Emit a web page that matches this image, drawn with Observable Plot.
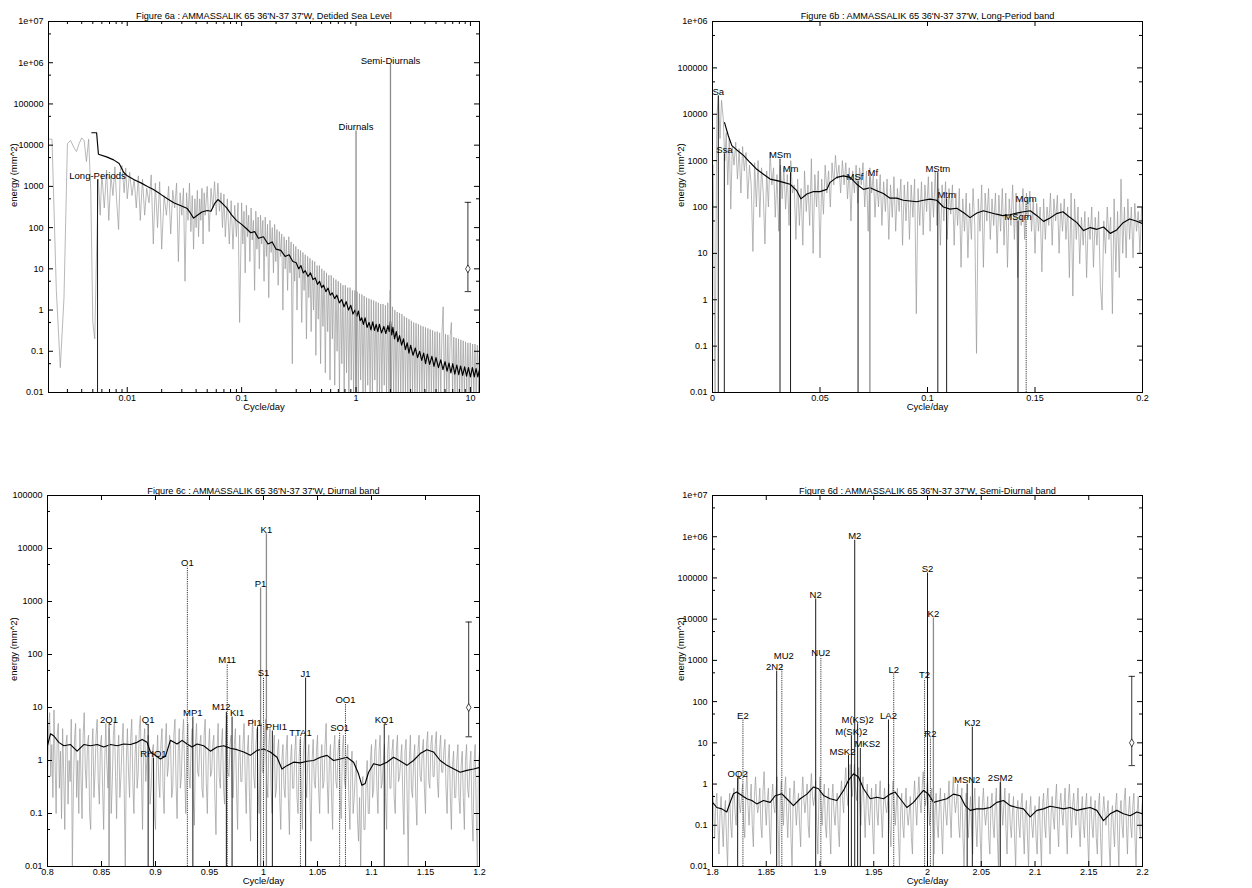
<!DOCTYPE html>
<html><head><meta charset="utf-8">
<script src="https://cdn.jsdelivr.net/npm/d3@7"></script>
<script src="https://cdn.jsdelivr.net/npm/@observablehq/plot@0.6"></script>
<style>
html,body{margin:0;padding:0;background:#fff;}
#wrap{position:relative;width:1252px;height:888px;overflow:hidden;background:#fff;}
.panel{position:absolute;}
</style></head><body><div id="wrap"></div>
<script>
// ---------- tick values and labels ----------
const yTicksAll = [0.01, 0.1, 1, 10, 100, 1000, 10000, 100000, 1e6, 1e7];
const yTickLabelsAll = ["0.01", "0.1", "1", "10", "100", "1000", "10000", "100000", "1e+06", "1e+07"];
const yMinorAll = [0.05, 0.5, 5, 50, 500, 5000, 50000, 500000, 5e6];
const aXTicks = [0.01, 0.1, 1, 10];
const aXTickLabels = ["0.01", "0.1", "1", "10"];
const aXMinor = [0.003,0.004,0.005,0.006,0.007,0.008,0.009,0.02,0.03,0.04,0.05,0.06,0.07,0.08,0.09,0.2,0.3,0.4,0.5,0.6,0.7,0.8,0.9,2,3,4,5,6,7,8,9];
const bXTicks = [0, 0.05, 0.1, 0.15, 0.2];
const bXTickLabels = ["0", "0.05", "0.1", "0.15", "0.2"];
const cXTicks = [0.8, 0.85, 0.9, 0.95, 1, 1.05, 1.1, 1.15, 1.2];
const cXTickLabels = ["0.8", "0.85", "0.9", "0.95", "1", "1.05", "1.1", "1.15", "1.2"];
const dXTicks = [1.8, 1.85, 1.9, 1.95, 2, 2.05, 2.1, 2.15, 2.2];
const dXTickLabels = ["1.8", "1.85", "1.9", "1.95", "2", "2.05", "2.1", "2.15", "2.2"];

const titles = [
  "Figure 6a : AMMASSALIK 65 36'N-37 37'W, Detided Sea Level",
  "Figure 6b : AMMASSALIK 65 36'N-37 37'W, Long-Period band",
  "Figure 6c : AMMASSALIK 65 36'N-37 37'W, Diurnal band",
  "Figure 6d : AMMASSALIK 65 36'N-37 37'W, Semi-Diurnal band"
];
const xLabel = "Cycle/day";
const yLabel = "energy (mm^2)";

// ---------- Panel a : raw spectrum (gray) and smoothed spectrum (black) ----------
const aGray = [[0.00205,14000],[0.0022,14000],[0.0024,3],[0.0026,0.04],[0.0028,2],[0.003,11000],[0.0032,13000],[0.0034,9000],[0.0036,7000],[0.0038,11000],[0.004,15000],[0.0042,13000],[0.0044,4000],[0.0046,14000],[0.0048,800],[0.005,0.5],[0.0052,0.2],[0.0054,30],[0.0056,1500],[0.0058,200],[0.006,2000],[0.0063,300],[0.0066,2500],[0.0069,150],[0.0072,1800],[0.0075,600],[0.0078,3000],[0.0081,400],[0.0084,90],[0.0087,2500],[0.009,3200],[0.0094,700],[0.0097,2800],[0.01,500],[0.0105,2200],[0.011,600],[0.0115,1500],[0.012,300],[0.0125,1800],[0.013,150],[0.0136,1500],[0.0142,200],[0.0148,900],[0.0155,400],[0.0162,1900],[0.0169,40],[0.0176,1200],[0.0184,100],[0.0192,1300],[0.02,30],[0.021,600],[0.022,200],[0.023,1000],[0.024,70],[0.025,800],[0.026,300],[0.027,1200],[0.028,15],[0.029,700],[0.03,200],[0.031,900],[0.032,5],[0.033,700],[0.034,150],[0.035,1200],[0.036,80],[0.037,600],[0.038,30],[0.039,500],[0.04,100],[0.041,800],[0.042,60],[0.043,500],[0.044,150],[0.045,900],[0.046,40],[0.047,700],[0.048,200],[0.05,1000],[0.052,80],[0.054,900],[0.056,300],[0.058,1300],[0.06,200],[0.062,1200],[0.064,250],[0.066,700],[0.068,100],[0.07,650],[0.072,60],[0.075,500],[0.078,40],[0.081,450],[0.084,30],[0.087,350],[0.09,60],[0.093,400],[0.096,0.5],
[0.1,400],[0.1024,40],[0.1049,250],[0.1074,8],[0.11,350],[0.1126,60],[0.1153,200],[0.1181,15],[0.1209,300],[0.1238,50],[0.1268,150],[0.1298,3],[0.133,250],[0.1361,30],[0.1394,180],[0.1428,10],[0.1462,200],[0.1497,40],[0.1533,150],[0.157,5],[0.1607,180],[0.1646,20],[0.1685,120],[0.1726,2],[0.1767,150],[0.181,25],[0.1853,100],[0.1897,8],[0.1943,120],[0.199,15],[0.2037,90],[0.2086,4],[0.2136,80],[0.2188,20],[0.224,70],[0.2294,1],[0.2349,60],[0.2405,10],[0.2463,50],[0.2522,3],[0.2582,60],[0.2644,8],[0.2708,45],[0.2773,0.05],[0.2839,40],[0.2907,5],[0.2977,35],[0.3049,1],[0.3122,30],[0.3197,6],[0.3273,28],[0.3352,0.5],[0.3432,25],[0.3515,3],[0.3599,22],[0.3686,0.2],[0.3774,20],[0.3865,2],[0.3957,18],[0.4052,0.3],[0.415,16],[0.4249,1],[0.4351,15],[0.4456,0.08],[0.4563,12],[0.4672,0.6],[0.4784,12],[0.4899,0.05],[0.5017,10],[0.5137,0.4],[0.526,9],[0.5387,0.03],[0.5516,8],[0.5649,0.3],[0.5784,7],[0.5923,0.02],[0.6065,7],[0.6211,0.2],[0.636,6],[0.6513,0.015],[0.6669,5.5],[0.6829,0.1],[0.6993,5],[0.7161,0.01],[0.7333,4.5],[0.7509,0.05],[0.7689,4],[0.7874,0.01],[0.8063,4],[0.8256,0.03],[0.8454,3.5],[0.8657,0.01],[0.8865,3.5],[0.9078,0.02],[0.9296,3],[0.9519,0.01],[0.9747,3],[0.9981,0.01],[1.022,2.8],[1.047,0.01],[1.072,2.5],[1.097,0.02],[1.124,2.4],[1.151,0.01],[1.178,2.2],[1.207,0.01],[1.236,2],[1.265,0.015],[1.296,1.9],[1.327,0.01],[1.359,1.8],[1.391,0.01],[1.425,1.7],[1.459,0.02],[1.494,1.6],[1.53,0.01],[1.567,1.5],[1.604,0.01],[1.643,1.4],[1.682,0.01],[1.722,1.4],[1.764,0.015],[1.806,1.3],[1.849,0.01],[1.894,1.5],[1.939,0.01],[1.986,3],[2.033,0.01],[2.082,1.2],[2.132,0.01],[2.183,1.0],[2.236,0.01],[2.289,0.9],[2.344,0.01],[2.401,0.85],[2.458,0.01],[2.517,0.8],[2.578,0.01],[2.64,0.7],[2.703,0.01],[2.768,0.65],[2.834,0.01],[2.902,0.6],[2.972,0.01],[3.043,0.55],[3.117,0.01],[3.191,0.5],[3.268,0.01],[3.346,0.48],[3.427,0.01],[3.509,0.45],[3.593,0.01],[3.679,0.42],[3.768,0.01],[3.858,0.4],[3.951,0.01],[4.046,0.38],[4.143,0.01],[4.242,0.36],[4.344,0.01],[4.449,0.34],[4.555,0.01],[4.665,0.32],[4.777,0.01],[4.891,0.3],[5.009,0.01],[5.129,0.3],[5.252,0.01],[5.378,0.28],[5.507,0.01],[5.639,0.28],[5.775,1.2],[5.913,0.01],[6.055,0.26],[6.201,0.01],[6.349,0.25],[6.502,0.01],[6.658,0.24],[6.818,0.5],[6.981,0.01],[7.149,0.22],[7.32,0.01],[7.496,0.21],[7.676,0.01],[7.86,0.2],[8.049,0.01],[8.242,0.19],[8.44,0.01],[8.642,0.18],[8.85,0.01],[9.062,0.17],[9.28,0.01],[9.503,0.16],[9.731,0.01],[9.964,0.16],[10.2,0.01],[10.45,0.15],[10.7,0.01],[10.96,0.15],[11.22,0.01],[11.49,0.14],[11.77,0.01],[12,0.13]];
const aSmooth = [[0.0049,20000],[0.0054,20000],[0.0056,6000],[0.0066,5200],[0.0076,4400],[0.0085,3600],[0.0093,2200],[0.01,1800],[0.0115,1450],[0.0133,1200],[0.015,1000],[0.0168,850],[0.0195,650],[0.0224,500],[0.0255,400],[0.0295,340],[0.0335,290],[0.0355,230],[0.038,170],[0.041,200],[0.045,240],[0.05,260],[0.054,250],[0.058,380],[0.062,480],[0.067,400],[0.074,300],[0.082,200],[0.09,150],[0.1,120],[0.11,95],[0.12,75],[0.13,80],[0.14,55],[0.155,60],[0.17,40],[0.185,45],[0.2,30],[0.22,28],[0.24,20],[0.26,22],[0.28,15],[0.3,14],[0.315,10],[0.33,12],[0.345,8],[0.36,9],[0.38,6.5],[0.4,8],[0.42,5.5],[0.44,6],[0.46,4.2],[0.48,5],[0.5,3.5],[0.52,4],[0.545,2.8],[0.57,3.4],[0.595,2.3],[0.62,2.6],[0.65,1.9],[0.68,2.3],[0.715,1.5],[0.75,1.8],[0.785,1.2],[0.82,1.6],[0.86,1.0],[0.9,1.3],[0.94,0.8],[0.98,1.0],[1.015,0.7],[1.05,0.95],[1.085,0.55],[1.12,0.65],[1.16,0.45],[1.2,0.65],[1.25,0.38],[1.3,0.5],[1.35,0.33],[1.4,0.52],[1.45,0.32],[1.5,0.45],[1.55,0.3],[1.6,0.45],[1.67,0.28],[1.75,0.4],[1.82,0.27],[1.9,0.42],[1.95,0.3],[2.0,0.55],[2.05,0.25],[2.1,0.38],[2.17,0.2],[2.25,0.3],[2.32,0.17],[2.4,0.24],[2.5,0.14],[2.6,0.2],[2.7,0.11],[2.8,0.16],[2.9,0.09],[3.0,0.14],[3.15,0.08],[3.3,0.12],[3.45,0.07],[3.6,0.1],[3.75,0.06],[3.9,0.09],[4.05,0.05],[4.2,0.085],[4.4,0.048],[4.6,0.075],[4.8,0.043],[5.0,0.07],[5.25,0.04],[5.5,0.062],[5.75,0.036],[6.0,0.056],[6.25,0.033],[6.5,0.052],[6.75,0.03],[7.0,0.05],[7.3,0.028],[7.6,0.046],[7.9,0.027],[8.2,0.044],[8.55,0.026],[8.9,0.042],[9.25,0.025],[9.6,0.04],[10,0.024],[10.4,0.04],[10.8,0.024],[11.2,0.038],[11.6,0.024],[12,0.036]];
const aBands = [
  {n: "Long-Periods", f: 0.0055, e: 1450, s: "k"},
  {n: "Diurnals", f: 1.0, e: 22000, s: "g"},
  {n: "Semi-Diurnals", f: 2.0, e: 900000, s: "g"}
];
const aErr = {f: 9.5, lo: 2.8, mid: 10, hi: 410};

// ---------- Panel b : long-period band ----------
const bGray = [[0.0003,800],[0.0012,0.01],[0.002,9000],[0.0028,25000],[0.0035,3000],[0.0042,20000],[0.005,8000],[0.0057,1000],[0.0064,4000],[0.0071,300],[0.0078,3000],[0.0085,90],[0.0092,2000],[0.01,800],[0.0108,2500],[0.0116,400],[0.0124,1800],[0.0132,200],[0.014,2000],[0.0148,600],[0.0156,1500],[0.0164,150],[0.0172,800],[0.018,300],[0.0188,11],[0.0196,900],[0.0204,100],[0.0212,1000],[0.022,60],[0.0228,700],[0.0236,200],[0.0244,16],[0.0252,600],[0.026,100],[0.0268,1500],[0.0276,300],[0.0284,700],[0.0292,60],[0.03,500],[0.0308,30],[0.0316,800],[0.0324,150],[0.0332,700],[0.034,90],[0.0348,500],[0.0356,40],[0.0364,1000],[0.0372,200],[0.038,300],[0.0388,20],[0.0396,400],[0.0404,40],[0.0412,250],[0.042,15],[0.0428,600],[0.0436,80],[0.0444,300],[0.0452,40],[0.046,1100],[0.0468,10],[0.0476,500],[0.0484,100],[0.0492,600],[0.05,8],[0.0508,400],[0.0516,70],[0.0524,800],[0.0532,200],[0.054,600],[0.0548,100],[0.0556,900],[0.0564,300],[0.0572,1300],[0.058,400],[0.0588,800],[0.0596,200],[0.0604,1000],[0.0612,300],[0.062,900],[0.0628,150],[0.0636,700],[0.0644,50],[0.0652,600],[0.066,200],[0.0668,800],[0.0676,120],[0.0684,700],[0.0692,300],[0.07,900],[0.0708,100],[0.0716,600],[0.0724,30],[0.0732,700],[0.074,200],[0.0748,500],[0.0756,60],[0.0764,400],[0.0772,100],[0.078,500],[0.0788,40],[0.0796,350],[0.0804,80],[0.0812,400],[0.082,20],[0.0828,300],[0.0836,60],[0.0844,450],[0.0852,30],[0.086,250],[0.0868,80],[0.0876,400],[0.0884,15],[0.0892,300],[0.09,50],[0.0908,350],[0.0916,20],[0.0924,300],[0.0932,60],[0.094,400],[0.0948,0.5],[0.0956,250],[0.0964,40],[0.0972,350],[0.098,25],[0.0988,300],[0.0996,80],[0.1004,450],[0.1012,30],[0.102,350],[0.1028,60],[0.1036,600],[0.1044,40],[0.1052,250],[0.106,15],[0.1068,300],[0.1076,50],[0.1084,350],[0.1092,20],[0.11,250],[0.1108,70],[0.1116,300],[0.1124,15],[0.1132,200],[0.114,40],[0.1148,250],[0.1156,5],[0.1164,150],[0.1172,30],[0.118,200],[0.1188,8],[0.1196,120],[0.1204,20],[0.1212,250],[0.122,40],[0.1228,0.07],[0.1236,150],[0.1244,30],[0.1252,300],[0.126,5],[0.1268,200],[0.1276,50],[0.1284,250],[0.1292,20],[0.13,150],[0.1308,40],[0.1316,200],[0.1324,10],[0.1332,180],[0.134,30],[0.1348,250],[0.1356,15],[0.1364,200],[0.1372,5],[0.138,150],[0.1388,40],[0.1396,300],[0.1404,20],[0.1412,200],[0.142,3],[0.1428,150],[0.1436,40],[0.1444,250],[0.1452,20],[0.146,200],[0.1468,60],[0.1476,220],[0.1484,30],[0.1492,150],[0.15,10],[0.1508,120],[0.1516,30],[0.1524,100],[0.1532,4],[0.154,150],[0.1548,20],[0.1556,100],[0.1564,40],[0.1572,200],[0.158,15],[0.1588,150],[0.1596,50],[0.1604,180],[0.1612,10],[0.162,120],[0.1628,30],[0.1636,150],[0.1644,20],[0.1652,100],[0.166,3],[0.1668,200],[0.1676,1.2],[0.1684,150],[0.1692,20],[0.17,100],[0.1708,6],[0.1716,60],[0.1724,15],[0.1732,80],[0.174,3],[0.1748,60],[0.1756,20],[0.1764,100],[0.1772,5],[0.178,60],[0.1788,15],[0.1796,80],[0.1804,2],[0.1812,0.6],[0.182,50],[0.1828,10],[0.1836,100],[0.1844,20],[0.1852,60],[0.186,0.5],[0.1868,150],[0.1876,4],[0.1884,80],[0.1892,3],[0.19,400],[0.1908,10],[0.1916,100],[0.1924,8],[0.1932,150],[0.194,20],[0.1948,100],[0.1956,8],[0.1964,120],[0.1972,30],[0.198,80],[0.1988,10],[0.1996,100],[0.2,40]];
const bSmooth = [[0.0056,6600],[0.0074,3400],[0.009,2100],[0.0113,1700],[0.0144,1300],[0.0175,910],[0.0206,650],[0.0237,510],[0.0268,400],[0.03,370],[0.033,340],[0.0361,310],[0.0392,225],[0.0411,150],[0.0439,190],[0.047,215],[0.05,215],[0.0532,240],[0.0547,340],[0.0578,435],[0.0609,470],[0.064,435],[0.0671,310],[0.0702,240],[0.0733,260],[0.0764,225],[0.0795,195],[0.0826,155],[0.0857,155],[0.0888,140],[0.0919,135],[0.095,130],[0.0981,140],[0.1012,148],[0.1043,140],[0.1074,100],[0.1105,90],[0.1136,94],[0.1167,76],[0.1198,59],[0.123,74],[0.126,83],[0.129,76],[0.132,70],[0.135,65],[0.1384,68],[0.1415,74],[0.1447,79],[0.1478,83],[0.1509,65],[0.154,49],[0.157,58],[0.16,72],[0.163,79],[0.166,61],[0.1695,46],[0.1726,31],[0.1757,36],[0.1788,33],[0.1819,37],[0.185,27],[0.188,32],[0.191,46],[0.194,55],[0.197,50],[0.2,44]];
const bCons = [
  {n: "Sa", f: 0.0027, e: 25000, s: "k"},
  {n: "Ssa", f: 0.0055, e: 1400, s: "k"},
  {n: "MSm", f: 0.0314, e: 1070, s: "k"},
  {n: "Mm", f: 0.0363, e: 550, s: "k"},
  {n: "MSf", f: 0.0677, e: 360, s: "k"},
  {n: "Mf", f: 0.0732, e: 440, s: "g"},
  {n: "MStm", f: 0.1048, e: 550, s: "k"},
  {n: "Mtm", f: 0.1089, e: 150, s: "k"},
  {n: "MSqm", f: 0.1421, e: 50, s: "k"},
  {n: "Mqm", f: 0.1459, e: 122, s: "d"}
];

// ---------- Panel c : diurnal band ----------
const cGray = [[0.8,0.4],[0.801,4],[0.802,8],[0.803,0.5],[0.804,2],[0.805,0.2],[0.806,9],[0.807,1],[0.808,0.1],[0.809,3],[0.81,5],[0.811,0.3],[0.812,1.5],[0.813,0.08],[0.814,4],[0.815,0.6],[0.816,0.05],[0.817,2],[0.818,3],[0.819,0.15],[0.82,1],[0.821,0.4],[0.822,6],[0.823,0.01],[0.824,0.3],[0.825,2.5],[0.826,5],[0.827,0.2],[0.828,1],[0.829,0.1],[0.83,4],[0.831,0.5],[0.832,0.08],[0.833,3],[0.834,8],[0.835,0.7],[0.836,0.3],[0.837,2],[0.838,3],[0.839,0.1],[0.84,0.05],[0.841,1.5],[0.842,4],[0.843,0.2],[0.844,0.6],[0.845,3],[0.846,6],[0.847,0.4],[0.848,0.15],[0.849,2],[0.85,3],[0.851,0.3],[0.852,0.05],[0.853,1],[0.854,5],[0.855,0.8],[0.856,0.3],[0.857,4],[0.858,2],[0.859,0.1],[0.86,0.4],[0.861,3],[0.862,6],[0.863,0.5],[0.864,0.08],[0.865,1.5],[0.866,3],[0.867,0.2],[0.868,0.5],[0.869,2],[0.87,5],[0.871,0.3],[0.872,0.01],[0.873,1],[0.874,4],[0.875,0.6],[0.876,0.2],[0.877,2.5],[0.878,6],[0.879,0.4],[0.88,0.1],[0.881,1.2],[0.882,3],[0.883,0.3],[0.884,0.6],[0.885,4],[0.886,7],[0.887,0.5],[0.888,0.05],[0.889,2],[0.89,4],[0.891,0.4],[0.892,1],[0.893,3],[0.894,2],[0.895,0.15],[0.896,0.3],[0.897,1.5],[0.898,2],[0.899,0.1],[0.9,0.05],[0.901,1],[0.902,3],[0.903,0.4],[0.904,0.2],[0.905,2],[0.906,4],[0.907,0.3],[0.908,0.1],[0.909,2],[0.91,5],[0.911,0.5],[0.912,0.8],[0.913,3],[0.914,2],[0.915,0.2],[0.916,0.3],[0.917,3],[0.918,6],[0.919,0.4],[0.92,0.08],[0.921,1.5],[0.922,4],[0.923,0.3],[0.924,0.5],[0.925,3],[0.926,6],[0.927,0.6],[0.928,0.1],[0.929,2],[0.93,5],[0.931,0.5],[0.932,0.3],[0.933,2],[0.934,4],[0.935,0.2],[0.936,0.06],[0.937,2],[0.938,5],[0.939,0.6],[0.94,0.5],[0.941,2],[0.942,3],[0.943,0.3],[0.944,0.2],[0.945,3],[0.946,6],[0.947,0.4],[0.948,0.1],[0.949,1.5],[0.95,4],[0.951,0.5],[0.952,0.6],[0.953,2],[0.954,3],[0.955,0.2],[0.956,0.04],[0.957,1.5],[0.958,5],[0.959,0.5],[0.96,0.3],[0.961,2],[0.962,4],[0.963,0.3],[0.964,0.15],[0.965,3],[0.966,7],[0.967,0.6],[0.968,0.5],[0.969,2],[0.97,3],[0.971,0.2],[0.972,0.2],[0.973,2],[0.974,4],[0.975,0.3],[0.976,0.05],[0.977,1],[0.978,3],[0.979,0.4],[0.98,0.4],[0.981,2],[0.982,5],[0.983,0.5],[0.984,0.1],[0.985,1.5],[0.986,3],[0.987,0.2],[0.988,0.03],[0.989,2],[0.99,6],[0.991,0.5],[0.992,0.3],[0.993,2],[0.994,4],[0.995,0.3],[0.996,0.1],[0.997,2],[0.998,5],[0.999,0.6],[1.0,0.6],[1.001,3],[1.002,6],[1.003,0.4],[1.004,0.2],[1.005,2],[1.006,4],[1.007,0.3],[1.008,0.1],[1.009,1.5],[1.01,3],[1.011,0.2],[1.012,0.3],[1.013,1.5],[1.014,2.5],[1.015,0.2],[1.016,0.05],[1.017,1],[1.018,2],[1.019,0.3],[1.02,0.2],[1.021,1.5],[1.022,3],[1.023,0.2],[1.024,0.04],[1.025,1],[1.026,2],[1.027,0.3],[1.028,0.3],[1.029,1.5],[1.03,3],[1.031,0.2],[1.032,0.1],[1.033,1.2],[1.034,2.5],[1.035,0.3],[1.036,0.05],[1.037,1.5],[1.038,3],[1.039,0.4],[1.04,0.2],[1.041,1],[1.042,2],[1.043,0.2],[1.044,0.03],[1.045,1],[1.046,2.5],[1.047,0.4],[1.048,0.3],[1.049,1.5],[1.05,3],[1.051,0.3],[1.052,0.1],[1.053,1],[1.054,2],[1.055,0.3],[1.056,0.4],[1.057,2],[1.058,5],[1.059,0.4],[1.06,0.1],[1.061,1],[1.062,2],[1.063,0.2],[1.064,0.05],[1.065,1.5],[1.066,3],[1.067,0.4],[1.068,0.3],[1.069,1.5],[1.07,2.5],[1.071,0.2],[1.072,0.08],[1.073,1.5],[1.074,3],[1.075,0.4],[1.076,0.3],[1.077,1],[1.078,2],[1.079,0.2],[1.08,0.05],[1.081,0.8],[1.082,1.5],[1.083,0.1],[1.084,0.2],[1.085,0.6],[1.086,1],[1.087,0.08],[1.088,0.03],[1.089,0.2],[1.09,0.01],[1.091,0.3],[1.092,0.5],[1.093,0.05],[1.094,0.05],[1.095,0.4],[1.096,1],[1.097,0.1],[1.098,0.1],[1.099,1],[1.1,2],[1.101,0.2],[1.102,0.3],[1.103,1.5],[1.104,2.5],[1.105,0.3],[1.106,0.1],[1.107,1.5],[1.108,3],[1.109,0.3],[1.11,0.4],[1.111,1],[1.112,2],[1.113,0.2],[1.114,0.05],[1.115,1.5],[1.116,3],[1.117,0.3],[1.118,0.3],[1.119,1.5],[1.12,2.5],[1.121,0.2],[1.122,0.1],[1.123,1.5],[1.124,3],[1.125,0.4],[1.126,0.5],[1.127,1],[1.128,2],[1.129,0.2],[1.13,0.04],[1.131,1.5],[1.132,2.5],[1.133,0.2],[1.134,0.01],[1.135,1],[1.136,3],[1.137,0.3],[1.138,0.2],[1.139,1],[1.14,2],[1.141,0.2],[1.142,0.06],[1.143,1.5],[1.144,3],[1.145,0.5],[1.146,0.4],[1.147,1.5],[1.148,2.5],[1.149,0.3],[1.15,0.1],[1.151,2],[1.152,3.5],[1.153,0.4],[1.154,0.3],[1.155,2],[1.156,3],[1.157,0.5],[1.158,0.5],[1.159,2],[1.16,3.5],[1.161,0.4],[1.162,0.2],[1.163,1.5],[1.164,3],[1.165,0.6],[1.166,0.6],[1.167,1.5],[1.168,2.5],[1.169,0.3],[1.17,0.1],[1.171,1],[1.172,2],[1.173,0.2],[1.174,0.05],[1.175,0.8],[1.176,1.5],[1.177,0.2],[1.178,0.2],[1.179,1],[1.18,2],[1.181,0.2],[1.182,0.1],[1.183,0.8],[1.184,1.5],[1.185,0.2],[1.186,0.05],[1.187,1],[1.188,2],[1.189,0.3],[1.19,0.2],[1.191,0.8],[1.192,1.5],[1.193,0.1],[1.194,0.03],[1.195,1],[1.196,2],[1.197,0.1],[1.198,0.01],[1.199,0.8],[1.2,1.5]];
const cSmooth = [[0.8,1.9],[0.8028,3.2],[0.8059,2.9],[0.8105,2.2],[0.8151,1.9],[0.8213,2.0],[0.8274,1.5],[0.8336,2.0],[0.8398,1.9],[0.846,2.0],[0.8521,1.8],[0.8583,2.0],[0.8645,1.9],[0.8706,2.05],[0.8768,2.0],[0.883,2.2],[0.8876,2.5],[0.8922,2.2],[0.8953,1.45],[0.8999,1.25],[0.9045,1.07],[0.9092,1.2],[0.9138,2.4],[0.92,2.05],[0.9246,2.4],[0.9292,2.05],[0.9338,1.8],[0.9385,2.05],[0.9446,1.9],[0.9508,1.5],[0.957,1.8],[0.9631,1.9],[0.9693,1.7],[0.9755,1.6],[0.9817,1.45],[0.9878,1.25],[0.994,1.55],[1.0002,1.65],[1.0063,1.45],[1.0125,1.15],[1.0171,0.69],[1.0217,0.8],[1.0279,0.93],[1.0341,0.9],[1.0402,0.97],[1.0464,1.0],[1.0526,1.15],[1.0588,1.25],[1.0649,1.0],[1.0711,1.07],[1.0773,1.15],[1.0834,0.93],[1.088,0.56],[1.0911,0.34],[1.0942,0.37],[1.0973,0.6],[1.1019,0.87],[1.1081,0.81],[1.1143,0.93],[1.1204,1.15],[1.1266,0.98],[1.1328,0.81],[1.1389,1.0],[1.1451,1.35],[1.1513,1.6],[1.1574,1.45],[1.1636,1.0],[1.1698,0.81],[1.1759,0.7],[1.1821,0.6],[1.1883,0.65],[1.1945,0.69],[1.2,0.74]];
const cCons = [
  {n: "2Q1", f: 0.857, e: 4.8, s: "g"},
  {n: "Q1", f: 0.8932, e: 4.8, s: "k"},
  {n: "RHO1", f: 0.8981, e: 1.1, s: "k"},
  {n: "O1", f: 0.9295, e: 4500, s: "d"},
  {n: "MP1", f: 0.9346, e: 6.6, s: "k"},
  {n: "M11", f: 0.9664, e: 65, s: "d"},
  {n: "M12", f: 0.9656, e: 8.1, s: "k"},
  {n: "KI1", f: 0.9709, e: 6.6, s: "k"},
  {n: "PI1", f: 0.9945, e: 4.3, s: "k"},
  {n: "P1", f: 0.9973, e: 1800, s: "g"},
  {n: "S1", f: 1.0, e: 37, s: "d"},
  {n: "K1", f: 1.0027, e: 19000, s: "g"},
  {n: "PHI1", f: 1.0082, e: 3.6, s: "k"},
  {n: "TTA1", f: 1.0342, e: 2.8, s: "d"},
  {n: "J1", f: 1.039, e: 36, s: "k"},
  {n: "SO1", f: 1.0705, e: 3.4, s: "d"},
  {n: "OO1", f: 1.0759, e: 11.8, s: "d"},
  {n: "KQ1", f: 1.1118, e: 4.8, s: "k"}
];
const cErr = {f: 1.19, lo: 2.8, mid: 10, hi: 410};

// ---------- Panel d : semi-diurnal band ----------
const dGray = [[1.8,0.8],[1.801,0.3],[1.802,0.05],[1.803,0.3],[1.804,0.6],[1.805,0.1],[1.806,0.02],[1.807,0.2],[1.808,0.5],[1.809,0.1],[1.81,0.03],[1.811,0.2],[1.812,0.4],[1.813,0.05],[1.814,0.01],[1.815,0.2],[1.816,0.6],[1.817,0.1],[1.818,0.05],[1.819,0.4],[1.82,0.8],[1.821,0.2],[1.822,0.1],[1.823,0.6],[1.824,2],[1.825,0.3],[1.826,0.2],[1.827,0.5],[1.828,1],[1.829,0.1],[1.83,0.05],[1.831,0.6],[1.832,2],[1.833,0.3],[1.834,0.1],[1.835,0.4],[1.836,1],[1.837,0.1],[1.838,0.03],[1.839,0.5],[1.84,1.5],[1.841,0.4],[1.842,0.2],[1.843,0.3],[1.844,0.8],[1.845,0.1],[1.846,0.05],[1.847,0.7],[1.848,2],[1.849,0.3],[1.85,0.1],[1.851,0.4],[1.852,0.8],[1.853,0.08],[1.854,0.02],[1.855,0.4],[1.856,1],[1.857,0.3],[1.858,0.2],[1.859,0.6],[1.86,1.5],[1.861,0.1],[1.862,0.01],[1.863,0.4],[1.864,1.2],[1.865,0.3],[1.866,0.1],[1.867,0.6],[1.868,1.5],[1.869,0.2],[1.87,0.05],[1.871,0.3],[1.872,0.8],[1.873,0.05],[1.874,0.01],[1.875,0.4],[1.876,1.2],[1.877,0.3],[1.878,0.1],[1.879,0.3],[1.88,0.6],[1.881,0.1],[1.882,0.03],[1.883,0.5],[1.884,1.5],[1.885,0.4],[1.886,0.2],[1.887,0.4],[1.888,1],[1.889,0.1],[1.89,0.05],[1.891,0.7],[1.892,1.8],[1.893,0.5],[1.894,0.3],[1.895,0.5],[1.896,1.2],[1.897,0.1],[1.898,0.02],[1.899,0.5],[1.9,1.5],[1.901,0.3],[1.902,0.1],[1.903,0.4],[1.904,1],[1.905,0.1],[1.906,0.05],[1.907,0.3],[1.908,0.8],[1.909,0.08],[1.91,0.02],[1.911,0.4],[1.912,1],[1.913,0.2],[1.914,0.1],[1.915,0.3],[1.916,0.6],[1.917,0.08],[1.918,0.03],[1.919,0.5],[1.92,1.2],[1.921,0.4],[1.922,0.2],[1.923,1],[1.924,2.5],[1.925,0.6],[1.926,0.3],[1.927,1.2],[1.928,3],[1.929,0.8],[1.93,0.5],[1.931,1.2],[1.932,3],[1.933,0.8],[1.934,0.4],[1.935,1],[1.936,2.5],[1.937,0.4],[1.938,0.1],[1.939,0.5],[1.94,1.5],[1.941,0.3],[1.942,0.05],[1.943,0.4],[1.944,1],[1.945,0.2],[1.946,0.1],[1.947,0.3],[1.948,0.8],[1.949,0.08],[1.95,0.02],[1.951,0.4],[1.952,1],[1.953,0.2],[1.954,0.1],[1.955,0.5],[1.956,1.2],[1.957,0.2],[1.958,0.05],[1.959,0.3],[1.96,0.8],[1.961,0.3],[1.962,0.2],[1.963,0.4],[1.964,1],[1.965,0.1],[1.966,0.03],[1.967,0.5],[1.968,1.2],[1.969,0.3],[1.97,0.1],[1.971,0.3],[1.972,0.8],[1.973,0.05],[1.974,0.01],[1.975,0.2],[1.976,0.6],[1.977,0.1],[1.978,0.05],[1.979,0.3],[1.98,0.8],[1.981,0.2],[1.982,0.1],[1.983,0.2],[1.984,0.5],[1.985,0.05],[1.986,0.02],[1.987,0.4],[1.988,1.2],[1.989,0.3],[1.99,0.1],[1.991,0.5],[1.992,1.5],[1.993,0.4],[1.994,0.2],[1.995,0.8],[1.996,2],[1.997,0.6],[1.998,0.3],[1.999,0.5],[2.0,1.5],[2.001,0.3],[2.002,0.1],[2.003,0.3],[2.004,0.8],[2.005,0.1],[2.006,0.02],[2.007,0.2],[2.008,0.6],[2.009,0.1],[2.01,0.05],[2.011,0.3],[2.012,0.8],[2.013,0.1],[2.014,0.02],[2.015,0.2],[2.016,0.6],[2.017,0.2],[2.018,0.1],[2.019,0.4],[2.02,1.2],[2.021,0.2],[2.022,0.05],[2.023,0.5],[2.024,1.5],[2.025,0.4],[2.026,0.2],[2.027,0.4],[2.028,1],[2.029,0.1],[2.03,0.05],[2.031,0.3],[2.032,0.8],[2.033,0.05],[2.034,0.01],[2.035,0.2],[2.036,0.6],[2.037,0.1],[2.038,0.05],[2.039,0.2],[2.04,0.5],[2.041,0.08],[2.042,0.02],[2.043,0.3],[2.044,0.8],[2.045,0.1],[2.046,0.03],[2.047,0.2],[2.048,0.5],[2.049,0.05],[2.05,0.01],[2.051,0.3],[2.052,0.8],[2.053,0.2],[2.054,0.1],[2.055,0.2],[2.056,0.5],[2.057,0.05],[2.058,0.02],[2.059,0.3],[2.06,0.6],[2.061,0.1],[2.062,0.05],[2.063,0.3],[2.064,0.8],[2.065,0.05],[2.066,0.01],[2.067,0.4],[2.068,1.2],[2.069,0.3],[2.07,0.1],[2.071,0.3],[2.072,0.8],[2.073,0.08],[2.074,0.02],[2.075,0.3],[2.076,0.6],[2.077,0.1],[2.078,0.05],[2.079,0.2],[2.08,0.5],[2.081,0.05],[2.082,0.01],[2.083,0.2],[2.084,0.4],[2.085,0.1],[2.086,0.05],[2.087,0.3],[2.088,0.6],[2.089,0.08],[2.09,0.02],[2.091,0.2],[2.092,0.4],[2.093,0.05],[2.094,0.01],[2.095,0.2],[2.096,0.5],[2.097,0.1],[2.098,0.05],[2.099,0.15],[2.1,0.3],[2.101,0.05],[2.102,0.02],[2.103,0.2],[2.104,0.5],[2.105,0.05],[2.106,0.01],[2.107,0.3],[2.108,0.6],[2.109,0.1],[2.11,0.05],[2.111,0.4],[2.112,0.8],[2.113,0.1],[2.114,0.02],[2.115,0.2],[2.116,0.5],[2.117,0.15],[2.118,0.08],[2.119,0.4],[2.12,1],[2.121,0.1],[2.122,0.03],[2.123,0.3],[2.124,0.6],[2.125,0.2],[2.126,0.1],[2.127,0.3],[2.128,0.8],[2.129,0.1],[2.13,0.02],[2.131,0.4],[2.132,1],[2.133,0.2],[2.134,0.05],[2.135,0.3],[2.136,0.6],[2.137,0.2],[2.138,0.1],[2.139,0.3],[2.14,0.8],[2.141,0.1],[2.142,0.03],[2.143,0.2],[2.144,0.5],[2.145,0.1],[2.146,0.05],[2.147,0.3],[2.148,0.6],[2.149,0.05],[2.15,0.01],[2.151,0.2],[2.152,0.5],[2.153,0.1],[2.154,0.05],[2.155,0.2],[2.156,0.4],[2.157,0.05],[2.158,0.02],[2.159,0.3],[2.16,0.6],[2.161,0.05],[2.162,0.01],[2.163,0.2],[2.164,0.5],[2.165,0.2],[2.166,0.1],[2.167,0.2],[2.168,0.4],[2.169,0.03],[2.17,0.01],[2.171,0.15],[2.172,0.3],[2.173,0.08],[2.174,0.03],[2.175,0.3],[2.176,0.6],[2.177,0.05],[2.178,0.01],[2.179,0.2],[2.18,0.4],[2.181,0.1],[2.182,0.05],[2.183,0.4],[2.184,0.8],[2.185,0.1],[2.186,0.02],[2.187,0.2],[2.188,0.5],[2.189,0.1],[2.19,0.05],[2.191,0.3],[2.192,0.6],[2.193,0.05],[2.194,0.01],[2.195,0.2],[2.196,0.5],[2.197,0.1],[2.198,0.05],[2.199,0.2],[2.2,0.4]];
const dSmooth = [[1.8,0.36],[1.804,0.27],[1.8087,0.25],[1.8133,0.21],[1.8164,0.36],[1.8195,0.58],[1.8226,0.64],[1.8273,0.53],[1.8319,0.44],[1.8366,0.4],[1.8412,0.33],[1.8474,0.4],[1.8536,0.36],[1.8583,0.52],[1.8645,0.58],[1.8691,0.44],[1.8753,0.3],[1.8816,0.44],[1.8878,0.57],[1.894,0.85],[1.8986,0.77],[1.9033,0.53],[1.9095,0.44],[1.9157,0.4],[1.9219,0.7],[1.9265,1.23],[1.9312,1.78],[1.9358,1.48],[1.9405,0.77],[1.9467,0.44],[1.9529,0.48],[1.9591,0.44],[1.9653,0.57],[1.9699,0.64],[1.9746,0.44],[1.9808,0.27],[1.987,0.36],[1.9932,0.57],[1.9963,0.7],[2.0009,0.57],[2.0056,0.36],[2.0118,0.4],[2.018,0.44],[2.0242,0.57],[2.0304,0.52],[2.035,0.3],[2.0397,0.23],[2.0459,0.25],[2.0521,0.25],[2.0583,0.27],[2.0645,0.36],[2.0707,0.4],[2.0769,0.3],[2.0831,0.27],[2.0893,0.25],[2.0955,0.16],[2.1017,0.23],[2.1079,0.25],[2.1141,0.29],[2.1203,0.27],[2.1265,0.25],[2.1327,0.27],[2.1389,0.23],[2.1451,0.25],[2.1513,0.27],[2.1575,0.23],[2.1637,0.13],[2.1699,0.19],[2.1761,0.23],[2.1823,0.19],[2.1885,0.17],[2.1947,0.21],[2.2,0.19]];
const dCons = [
  {n: "OQ2", f: 1.8234, e: 1.4, s: "k"},
  {n: "E2", f: 1.8283, e: 36, s: "d"},
  {n: "2N2", f: 1.8597, e: 550, s: "k"},
  {n: "MU2", f: 1.8645, e: 800, s: "d"},
  {n: "N2", f: 1.896, e: 31000, s: "k"},
  {n: "NU2", f: 1.9008, e: 1200, s: "d"},
  {n: "MSK2", f: 1.9265, e: 4.9, s: "k"},
  {n: "M(SK)2", f: 1.9292, e: 15, s: "k"},
  {n: "M2", f: 1.9323, e: 820000, s: "k"},
  {n: "M(KS)2", f: 1.935, e: 29, s: "k"},
  {n: "MKS2", f: 1.9375, e: 7.3, s: "k"},
  {n: "LA2", f: 1.9637, e: 36, s: "k"},
  {n: "L2", f: 1.9686, e: 470, s: "d"},
  {n: "T2", f: 1.9973, e: 350, s: "d"},
  {n: "S2", f: 2.0, e: 132000, s: "k"},
  {n: "R2", f: 2.0027, e: 13, s: "d"},
  {n: "K2", f: 2.0055, e: 10700, s: "g"},
  {n: "MSN2", f: 2.0369, e: 1.0, s: "k"},
  {n: "KJ2", f: 2.0417, e: 24, s: "k"},
  {n: "2SM2", f: 2.0677, e: 1.1, s: "k"}
];
const dErr = {f: 2.19, lo: 2.8, mid: 10, hi: 410};

// ---------- label nudges (pixels) to separate crowded labels ----------
const labelNudge = {"M12": [-5, -1], "KI1": [5, 0], "PI1": [-3, 0], "PHI1": [4, 0], "MSf": [-3, 0], "Mf": [3, 0],
  "MSK2": [-6, 0], "MKS2": [7, 0], "MU2": [2, -4], "2N2": [-2, 0]};

// ---------- drawing ----------
const FONT = "'Liberation Sans', Arial, Helvetica, sans-serif";
const capSymbol = {draw(ctx, size) { const w = Math.sqrt(size) * 0.9; ctx.moveTo(-w, 0); ctx.lineTo(w, 0); }};
const lineStyles = {
  k: {stroke: "#000", strokeWidth: 0.9},
  g: {stroke: "#8c8c8c", strokeWidth: 1.3},
  d: {stroke: "#222", strokeWidth: 0.9, strokeDasharray: "1.2,1"}
};

function makePanel(cfg) {
  const W = cfg.width - cfg.ml - cfg.mr;
  const H = cfg.height - cfg.mt - cfg.mb;
  const xfmt = new Map(cfg.xTicks.map((t, i) => [t, cfg.xTickLabels[i]]));
  const yfmt = new Map(yTicksAll.map((t, i) => [t, yTickLabelsAll[i]]));
  const yTicks = yTicksAll.filter(t => t >= cfg.yDomain[0] && t <= cfg.yDomain[1]);
  const yMinor = yMinorAll.filter(t => t >= cfg.yDomain[0] && t <= cfg.yDomain[1]);
  const ymin = cfg.yDomain[0];
  const marks = [
    Plot.line(cfg.gray, {x: d => d[0], y: d => d[1], stroke: "#9a9a9a", strokeWidth: 0.7, clip: true}),
    Plot.line(cfg.smooth, {x: d => d[0], y: d => d[1], stroke: "#000", strokeWidth: 1.15, clip: true})
  ];
  for (const s of ["g", "d", "k"]) {
    marks.push(Plot.ruleX(cfg.cons.filter(c => c.s === s), {x: "f", y1: () => ymin, y2: "e", ...lineStyles[s]}));
  }
  for (const c of cfg.cons) {
    const nd = labelNudge[c.n] || [0, 0];
    marks.push(Plot.text([c], {x: "f", y: "e", text: "n", lineAnchor: "bottom", dx: nd[0], dy: -1 + nd[1], fontSize: 9.5, fill: "#000"}));
  }
  if (cfg.err) {
    const e = cfg.err;
    marks.push(Plot.ruleX([e], {x: "f", y1: "lo", y2: "hi", stroke: "#000", strokeWidth: 0.8}));
    marks.push(Plot.dot([{f: e.f, v: e.lo}, {f: e.f, v: e.hi}], {x: "f", y: "v", symbol: capSymbol, r: 2, stroke: "#000", fill: "none", strokeWidth: 0.8}));
    marks.push(Plot.dot([e], {x: "f", y: "mid", symbol: "diamond", r: 2.4, stroke: "#000", fill: "#fff", strokeWidth: 0.7}));
  }
  marks.push(
    Plot.frame({stroke: "#000", strokeWidth: 1}),
    Plot.tickX(cfg.xTicks, {x: d => d, insetTop: H - 5, stroke: "#000"}),
    Plot.tickX(cfg.xTicks, {x: d => d, insetBottom: H - 5, stroke: "#000"}),
    Plot.tickY(yTicks, {y: d => d, insetRight: W - 5, stroke: "#000"}),
    Plot.tickY(yTicks, {y: d => d, insetLeft: W - 5, stroke: "#000"}),
    Plot.tickY(yMinor, {y: d => d, insetRight: W - 3, stroke: "#000"}),
    Plot.tickY(yMinor, {y: d => d, insetLeft: W - 3, stroke: "#000"})
  );
  if (cfg.xMinor) {
    marks.push(
      Plot.tickX(cfg.xMinor, {x: d => d, insetTop: H - 3, stroke: "#000"}),
      Plot.tickX(cfg.xMinor, {x: d => d, insetBottom: H - 3, stroke: "#000"})
    );
  }
  marks.push(
    Plot.axisX({ticks: cfg.xTicks, tickSize: 0, tickPadding: 2, tickFormat: d => xfmt.get(d), label: null, fontSize: 9}),
    Plot.axisY({ticks: yTicks, tickSize: 0, tickPadding: 5, tickFormat: d => yfmt.get(d), label: null, fontSize: 9}),
    Plot.text([cfg.title], {text: d => d, frameAnchor: "top", dy: cfg.titleDy, fontSize: 9.2, fill: "#000"}),
    Plot.text([xLabel], {text: d => d, frameAnchor: "bottom", dy: cfg.xLabelDy, fontSize: 9.5, fill: "#000"}),
    Plot.text([yLabel], {text: d => d, frameAnchor: "left", dx: cfg.yLabelDx, rotate: -90, fontSize: 9.5, fill: "#000"})
  );
  const svg = Plot.plot({
    width: cfg.width, height: cfg.height,
    marginTop: cfg.mt, marginRight: cfg.mr, marginBottom: cfg.mb, marginLeft: cfg.ml,
    x: {type: cfg.xType, domain: cfg.xDomain},
    y: {type: "log", domain: cfg.yDomain},
    style: {fontFamily: FONT, fontSize: "9px", background: "transparent", overflow: "visible", color: "#000"},
    marks
  });
  const div = document.createElement("div");
  div.className = "panel";
  div.style.left = cfg.left + "px";
  div.style.top = cfg.top + "px";
  div.appendChild(svg);
  document.getElementById("wrap").appendChild(div);
}

makePanel({left: 0, top: 0, width: 630, height: 440, mt: 21, mr: 151, mb: 48, ml: 48,
  xType: "log", xDomain: [0.00205, 12], yDomain: [0.01, 1e7],
  xTicks: aXTicks, xTickLabels: aXTickLabels, xMinor: aXMinor,
  gray: aGray, smooth: aSmooth, cons: aBands, err: aErr,
  title: titles[0], titleDy: -9, xLabelDy: 17, yLabelDx: -35});
makePanel({left: 630, top: 0, width: 622, height: 440, mt: 21, mr: 110, mb: 48, ml: 82,
  xType: "linear", xDomain: [0, 0.2], yDomain: [0.01, 1e6],
  xTicks: bXTicks, xTickLabels: bXTickLabels,
  gray: bGray, smooth: bSmooth, cons: bCons, err: null,
  title: titles[1], titleDy: -9, xLabelDy: 17, yLabelDx: -32});
makePanel({left: 0, top: 440, width: 630, height: 448, mt: 55, mr: 151, mb: 22, ml: 47,
  xType: "linear", xDomain: [0.8, 1.2], yDomain: [0.01, 1e5],
  xTicks: cXTicks, xTickLabels: cXTickLabels,
  gray: cGray, smooth: cSmooth, cons: cCons, err: cErr,
  title: titles[2], titleDy: -8, xLabelDy: 17.5, yLabelDx: -34});
makePanel({left: 630, top: 440, width: 622, height: 448, mt: 55, mr: 110, mb: 22, ml: 82,
  xType: "linear", xDomain: [1.8, 2.2], yDomain: [0.01, 1e7],
  xTicks: dXTicks, xTickLabels: dXTickLabels,
  gray: dGray, smooth: dSmooth, cons: dCons, err: dErr,
  title: titles[3], titleDy: -8, xLabelDy: 17.5, yLabelDx: -32});
</script></body></html>
